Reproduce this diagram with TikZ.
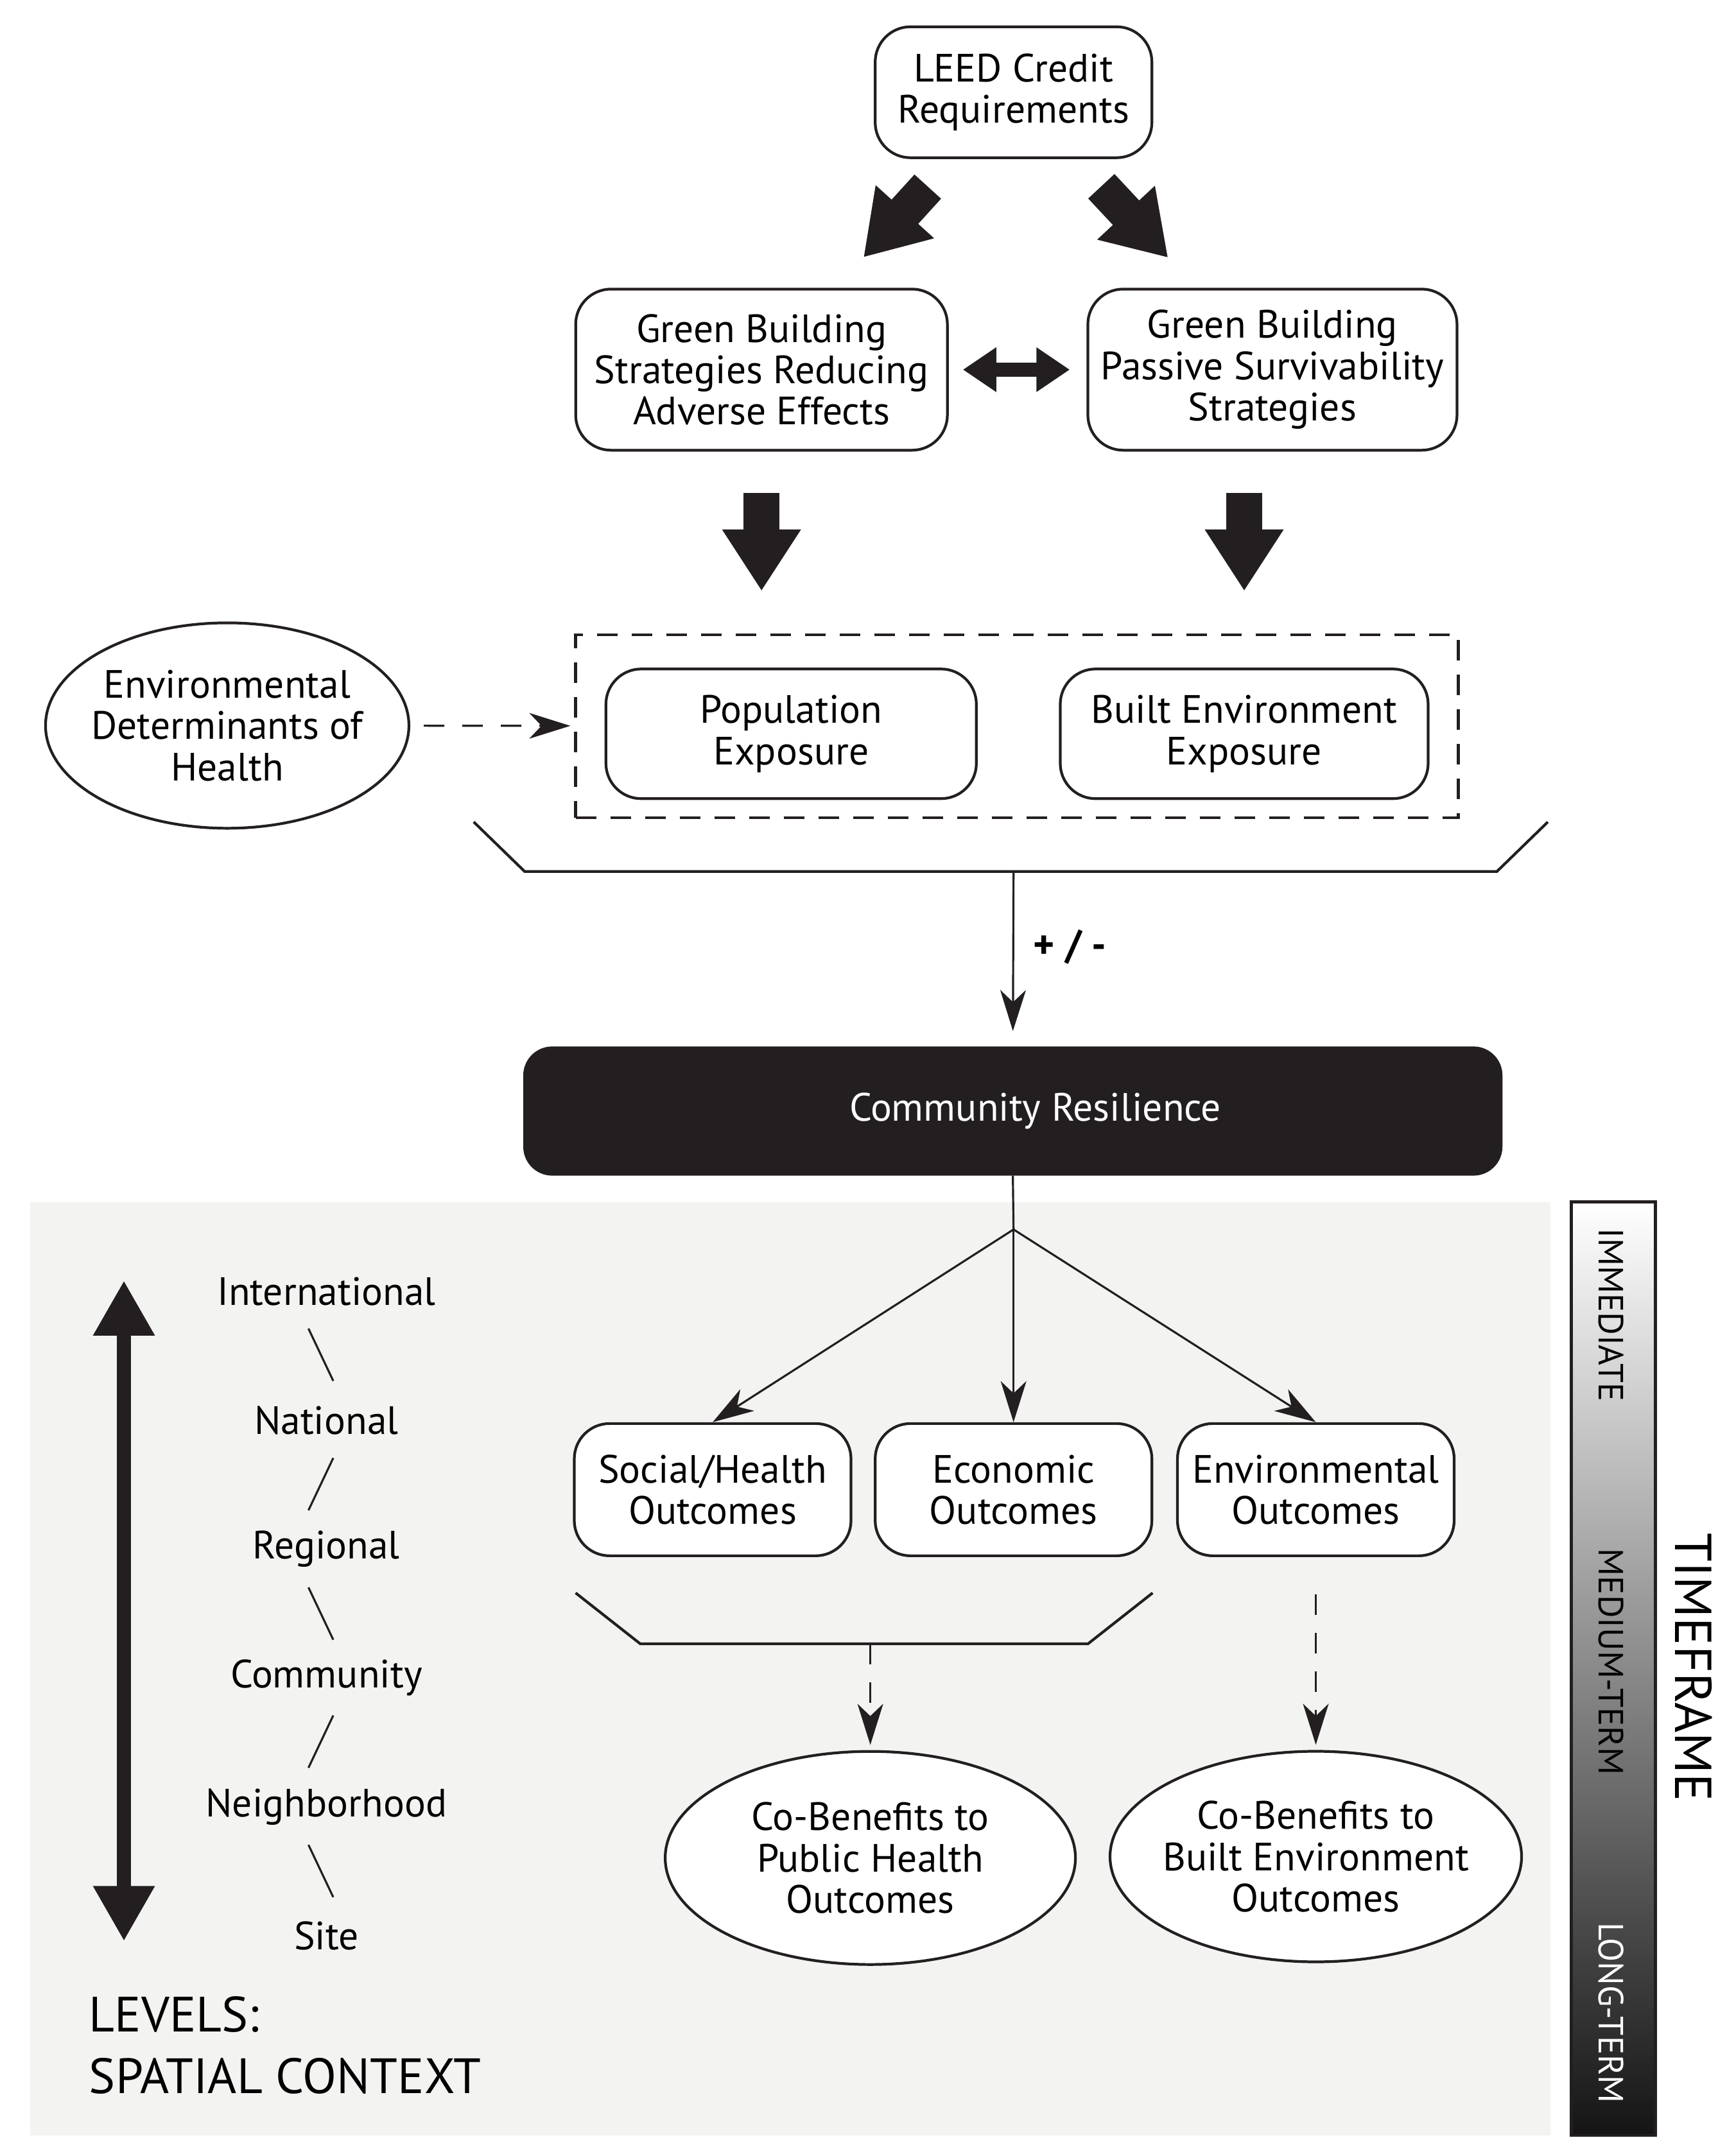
\documentclass[tikz,border=0pt]{standalone}
\usepackage{fontspec}
\setmainfont{PT Sans}
\usepackage{xcolor}
\usepackage{tikz}
\usetikzlibrary{arrows.meta,shapes.geometric}
\definecolor{panelgray}{RGB}{243,243,242}
\definecolor{inkblack}{RGB}{35,31,32}

\begin{document}
\begin{tikzpicture}[x=0.2145mm, y=-0.2145mm,
    box/.style={draw=inkblack, rounded corners=5.5mm, line width=1.2pt, fill=white, align=center, inner sep=0pt, font=\fontsize{17.5}{18.3}\selectfont},
    oval/.style={draw=inkblack, ellipse, line width=1.2pt, fill=white, inner sep=0pt},
    txt/.style={align=center, font=\fontsize{17.5}{18.3}\selectfont},
    fat/.style={inkblack, line width=5.6mm, -{Triangle[width=11.6mm, length=9.6mm]}},
    link/.style={inkblack, line width=0.9pt, -{Stealth[length=6.4mm, width=4mm, inset=1.9mm]}},
    dashlink/.style={link, dash pattern=on 3.2mm off 2.8mm},
    tframe/.style={rotate=-90, font=\fontsize{15.5}{18}\selectfont}]
  \useasboundingbox (0,0) rectangle (1254,1566);

  % background panel and timeframe bar
  \fill[panelgray] (22,873) rectangle (1126,1551);
  \shade[top color=white, bottom color=black!92] (1141,873) rectangle (1202,1551);
  \draw[inkblack, line width=1.3pt] (1141,873) rectangle (1202,1551);
  \node[tframe] (imm) at (1170,955) {IMMEDIATE};
  \node[tframe] (med) at (1170,1207) {MEDIUM-TERM};
  \node[tframe, white] (lng) at (1170,1462) {LONG-TERM};
  \node[rotate=-90, font=\fontsize{23}{26}\selectfont] (tf) at (1230,1211) {TIMEFRAME};

  % upper part
  \node[box, minimum width=43.1mm, minimum height=20.4mm] (leed) at (736,67) {LEED Credit\\Requirements};
  \node[box, minimum width=57.9mm, minimum height=25.1mm] (gbr) at (553,268.5) {Green Building\\Strategies Reducing\\Adverse Effects};
  \node[box, minimum width=57.5mm, minimum height=25.1mm] (gbp) at (924,268.5) {Green Building\\Passive Survivability\\Strategies};
  \node[draw=inkblack, line width=1.2pt, dash pattern=on 3.2mm off 2.2mm, minimum width=137.5mm, minimum height=28.5mm] (expo) at (738.5,527.5) {};
  \node[box, minimum width=57.7mm, minimum height=20.2mm] (pop) at (574.5,533) {Population\\Exposure};
  \node[box, minimum width=57.3mm, minimum height=20.2mm] (bee) at (903.5,533) {Built Environment\\Exposure};
  \node[oval, minimum width=56.6mm, minimum height=32mm, label={[txt]center:Environmental\\Determinants of\\Health}] (edh) at (165,527) {};

  \draw[fat, shorten <=5.8mm, shorten >=6.4mm] (leed) -- (gbr);
  \draw[fat, shorten <=5.8mm, shorten >=6.4mm] (leed) -- (gbp);
  \draw[inkblack, line width=2.2mm, {Triangle[width=6.6mm, length=5.2mm]}-{Triangle[width=6.6mm, length=5.2mm]}, shorten <=2.2mm, shorten >=2.6mm] (gbr) -- (gbp);
  \draw[fat, shorten <=6.4mm, shorten >=6.6mm] (gbr.south) -- (gbr.south |- expo.north);
  \draw[fat, shorten <=6.4mm, shorten >=6.6mm] (bee.north |- gbp.south) -- (bee.north |- expo.north);
  \draw[dashlink, shorten <=2.1mm, shorten >=0.6mm] (edh) -- (expo);

  % bracket to community resilience
  \coordinate (b1) at (736,633);
  \draw[inkblack, line width=1.2pt] (344,597) -- (381,633) -- (1087,633) -- (1124,597);
  \node[box, fill=inkblack, text=white, rounded corners=4.3mm, minimum width=152.1mm, minimum height=19.7mm] (cr) at (735.5,807) {\hspace{7mm}Community Resilience};
  \draw[link, shorten >=2.4mm] (b1) -- (cr.north);
  \node[txt, font=\fontsize{18}{20}\selectfont\bfseries] (pm) at (777,688) {+ / -};

  % outcomes
  \coordinate (fork) at (736,893);
  \node[box, minimum width=43.1mm, minimum height=20.6mm] (sho) at (517.5,1082) {Social/Health\\Outcomes};
  \node[box, minimum width=43.1mm, minimum height=20.6mm] (eco) at (736,1082) {Economic\\Outcomes};
  \node[box, minimum width=43.1mm, minimum height=20.6mm] (eno) at (955.5,1082) {Environmental\\Outcomes};
  \draw[inkblack, line width=0.9pt] (cr.south) -- (fork);
  \draw[link] (fork) -- (sho.north);
  \draw[link] (fork) -- (eco.north);
  \draw[link] (fork) -- (eno.north);

  % co-benefits
  \coordinate (b2) at (632,1194);
  \draw[inkblack, line width=1.2pt] (418,1157) -- (465,1194) -- (790,1194) -- (837,1157);
  \node[oval, minimum width=63.9mm, minimum height=33.2mm, label={[txt]center:Co-Benefits to\\Public Health\\Outcomes}] (cph) at (632,1349.5) {};
  \node[oval, minimum width=64.1mm, minimum height=32.8mm, label={[txt]center:Co-Benefits to\\Built Environment\\Outcomes}] (cbe) at (955.5,1348.5) {};
  \draw[dashlink, shorten >=0.8mm] (b2) -- (cph.north);
  \draw[dashlink, shorten <=5.8mm, shorten >=0.8mm] (eno.south) -- (cbe.north);

  % spatial levels
  \coordinate (lvtop) at (90,930);
  \coordinate (lvbot) at (90,1410);
  \draw[inkblack, line width=2.2mm, {Triangle[width=9mm, length=8.6mm]}-{Triangle[width=9mm, length=8.6mm]}] (lvtop) -- (lvbot);
  \foreach \name [count=\i] in {International, National, Regional, Community, Neighborhood, Site}
    \node[txt] (lv\i) at (237,{938+93.6*(\i-1)}) {\name};
  \foreach \y/\s in {984/1, 1078/-1, 1172/1, 1265/-1, 1359/1}
    \draw[inkblack, line width=0.9pt] (233-9*\s,\y-19) -- (233+9*\s,\y+19);
  \node[anchor=west, font=\fontsize{22}{25}\selectfont] (lvl) at (59,1463) {LEVELS:};
  \node[anchor=west, font=\fontsize{22}{25}\selectfont] (spc) at (59,1508) {SPATIAL CONTEXT};
\end{tikzpicture}
\end{document}
